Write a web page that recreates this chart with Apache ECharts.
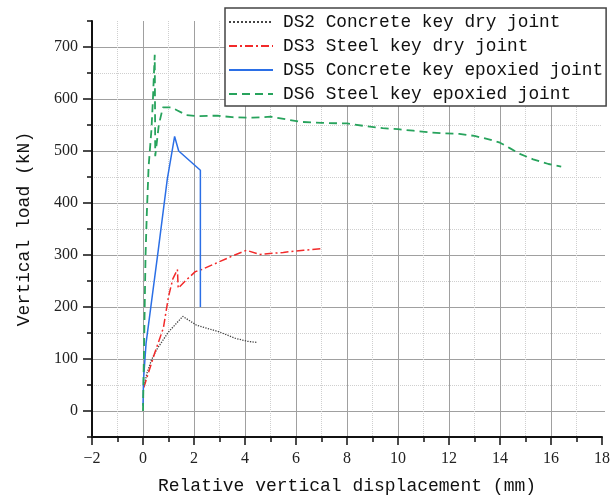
<!DOCTYPE html>
<html>
<head>
<meta charset="utf-8">
<script src="https://cdn.jsdelivr.net/npm/echarts@6/dist/echarts.min.js"></script>
<style>
  html, body { margin: 0; padding: 0; background: #fff; }
  #chart { width: 613px; height: 504px; }
</style>
</head>
<body>
<div id="chart"></div>
<script>
// [displacement mm, load kN]
const DS2 = [
  [0.05, 48], [0.15, 72], [0.33, 98], [0.52, 117], [1.0, 152], [1.56, 182],
  [2.1, 165], [3.0, 152], [3.6, 140], [4.1, 134], [4.45, 132]
];
const DS3 = [
  [0.03, 45], [0.45, 110], [0.8, 160], [1.0, 220], [1.17, 254], [1.35, 272],
  [1.38, 236], [1.7, 252], [2.05, 268], [2.3, 272], [2.9, 285], [3.5, 298],
  [4.05, 309], [4.6, 301], [5.5, 305], [6.3, 309], [7.0, 312]
];
const DS5 = [
  [0, 10], [0.02, 60], [0.12, 130], [0.6, 310], [0.95, 445], [1.24, 528],
  [1.4, 500], [2.25, 463], [2.25, 200]
];
const DS6 = [
  [0, 0], [0.05, 150], [0.1, 300], [0.15, 380], [0.22, 470], [0.33, 540],
  [0.39, 600], [0.43, 650], [0.46, 685], [0.47, 600], [0.48, 490], [0.62, 550],
  [0.78, 584], [1.1, 584], [1.35, 578], [1.7, 569], [2.2, 567], [2.9, 568],
  [3.5, 565], [4.3, 564], [5.0, 566], [5.6, 561], [6.2, 556], [7.0, 554],
  [8.0, 553], [8.7, 548], [9.4, 544], [10.0, 542], [10.6, 539], [11.2, 536],
  [11.8, 534], [12.4, 533], [13.0, 529], [13.6, 522], [14.0, 516], [14.4, 505],
  [14.8, 494], [15.3, 484], [15.9, 475], [16.4, 470]
];

const NAMES = [
  'DS2 Concrete key dry joint',
  'DS3 Steel key dry joint',
  'DS5 Concrete key epoxied joint',
  'DS6 Steel key epoxied joint'
];

const MONO = '"Liberation Mono", "DejaVu Sans Mono", monospace';
const SERIF = '"Liberation Serif", "DejaVu Serif", serif';

const chart = echarts.init(document.getElementById('chart'));

const line = (name, data, color, type, width) => ({
  name,
  type: 'line',
  xAxisIndex: 0,
  yAxisIndex: 0,
  data,
  symbol: 'none',
  animation: false,
  lineStyle: { color, type, width },
  itemStyle: { color },
  z: 5
});

chart.setOption({
  backgroundColor: '#fff',
  animation: false,
  grid: [
    { left: 92, right: 8, top: 21, bottom: 67 },
    // sits on 0..700 of the main grid, carries the labelled ticks and solid lines
    { left: 92, right: 8, top: 47, bottom: 93 }
  ],
  legend: {
    orient: 'vertical',
    left: 225,
    top: 8,
    padding: [4, 3, 2, 3],
    itemGap: 4,
    itemWidth: 44,
    itemHeight: 14,
    itemStyle: { opacity: 0 },
    backgroundColor: '#fff',
    borderColor: '#444',
    borderWidth: 1.5,
    textStyle: { fontFamily: MONO, fontSize: 17.8, lineHeight: 20, color: '#111', padding: [0, 0, 0, 5] },
    data: NAMES,
    z: 10
  },
  xAxis: [
    {
      gridIndex: 0,
      type: 'value',
      min: -2,
      max: 18,
      interval: 2,
      name: 'Relative vertical displacement (mm)',
      nameLocation: 'middle',
      nameGap: 40,
      nameTextStyle: { fontFamily: MONO, fontSize: 18, color: '#111' },
      axisLine: { onZero: false, lineStyle: { color: '#111', width: 2 } },
      axisTick: { inside: false, length: 8, lineStyle: { color: '#111', width: 1.5 } },
      minorTick: { show: true, splitNumber: 2, length: 5, lineStyle: { color: '#111', width: 1.5 } },
      axisLabel: {
        fontFamily: SERIF, fontSize: 16, color: '#222', margin: 14,
        formatter: v => (v < 0 ? '\u2212' + (-v) : String(v))
      },
      splitLine: { show: true, showMinLine: false, showMaxLine: false, lineStyle: { color: '#a0a0a0', width: 1 } },
      minorSplitLine: { show: true, lineStyle: { color: '#cfcfcf', type: 'dotted', width: 1 } }
    },
    {
      gridIndex: 1,
      type: 'value',
      min: -2,
      max: 18,
      show: false
    }
  ],
  yAxis: [
    {
      gridIndex: 0,
      type: 'value',
      min: -50,
      max: 750,
      interval: 50,
      name: 'Vertical load (kN)',
      nameLocation: 'middle',
      nameGap: 59,
      nameTextStyle: { fontFamily: MONO, fontSize: 18, color: '#111' },
      axisLine: { onZero: false, lineStyle: { color: '#111', width: 2 } },
      axisTick: { inside: false, length: 5, lineStyle: { color: '#111', width: 1.5 } },
      axisLabel: { show: false },
      splitLine: { show: true, showMinLine: false, showMaxLine: false, lineStyle: { color: '#cfcfcf', type: 'dotted', width: 1 } }
    },
    {
      gridIndex: 1,
      type: 'value',
      min: 0,
      max: 700,
      interval: 100,
      axisLine: { show: false, onZero: false },
      axisTick: { inside: false, length: 9, lineStyle: { color: '#111', width: 1.5 } },
      axisLabel: { fontFamily: SERIF, fontSize: 16, color: '#222', margin: 14 },
      splitLine: { show: true, lineStyle: { color: '#a0a0a0', width: 1 } }
    }
  ],
  series: [
    line(NAMES[0], DS2, '#444444', 'dotted', 1.3),
    line(NAMES[1], DS3, '#f22a2a', [8, 3, 2, 3], 1.5),
    line(NAMES[2], DS5, '#2b6fe6', 'solid', 1.5),
    line(NAMES[3], DS6, '#27a35c', [8, 5], 1.8)
  ]
});
</script>
</body>
</html>
